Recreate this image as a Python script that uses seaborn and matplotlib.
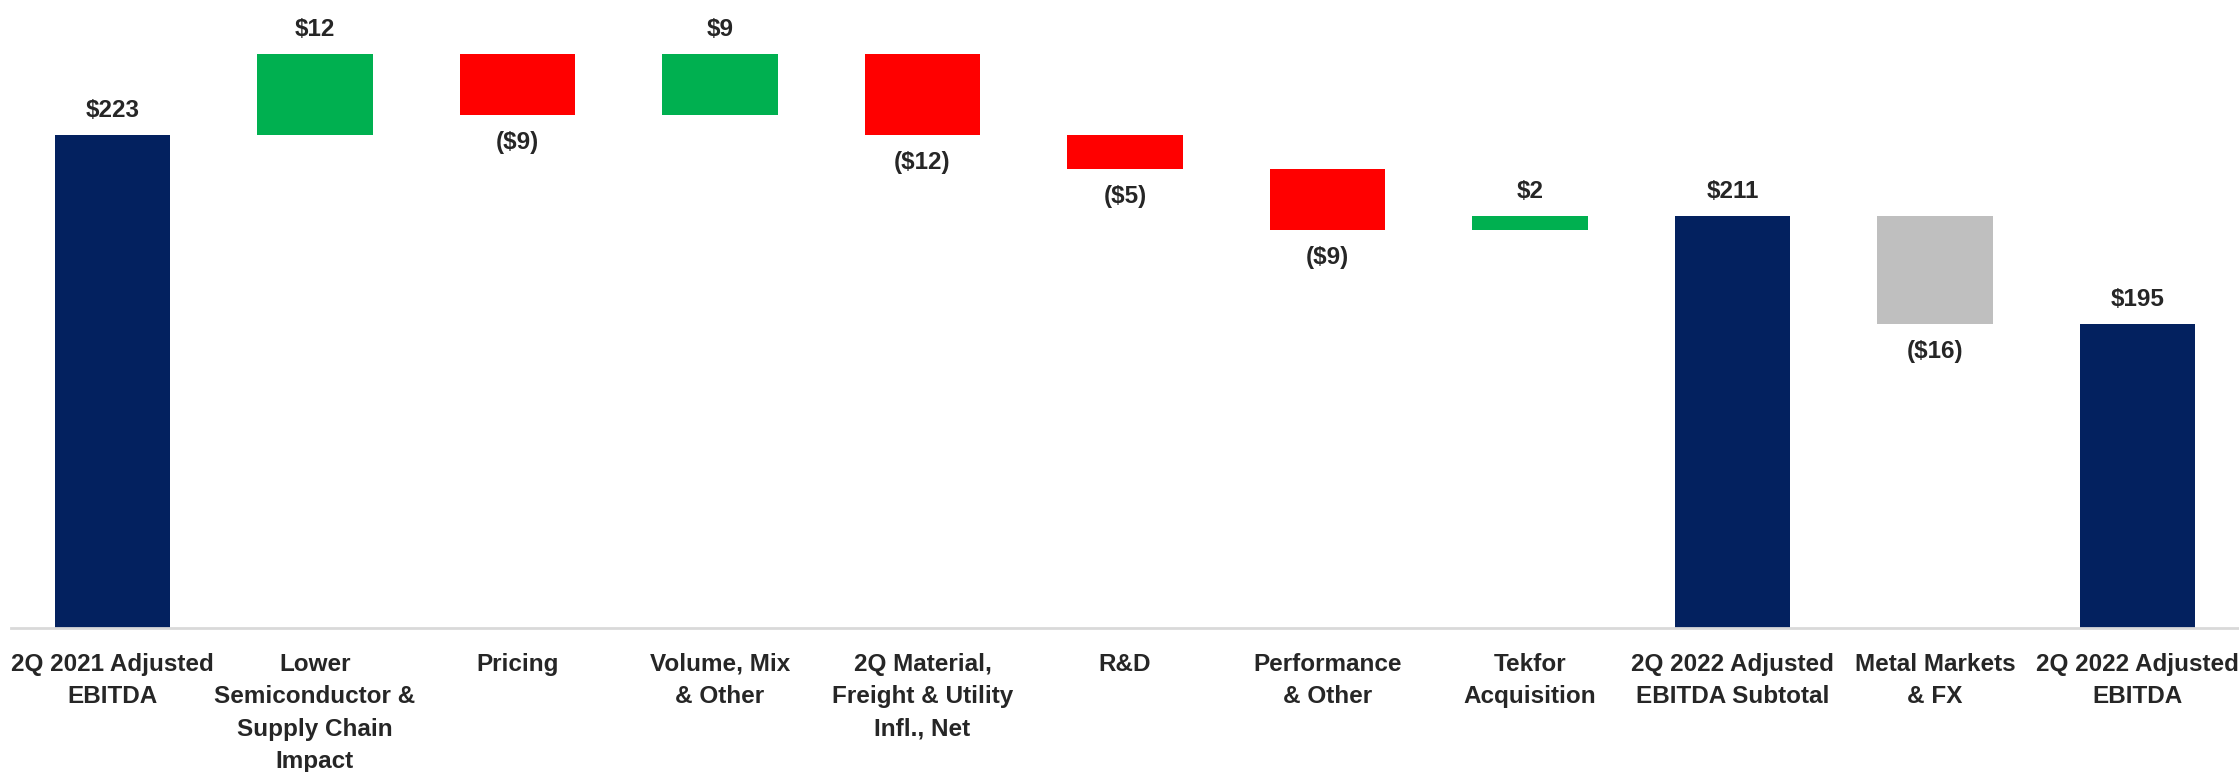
import numpy as np
import pandas as pd
import matplotlib
matplotlib.use("Agg")
import matplotlib.pyplot as plt
import seaborn as sns

categories = [
    "2Q 2021 Adjusted\nEBITDA",
    "Lower\nSemiconductor &\nSupply Chain\nImpact",
    "Pricing",
    "Volume, Mix\n& Other",
    "2Q Material,\nFreight & Utility\nInfl., Net",
    "R&D",
    "Performance\n& Other",
    "Tekfor\nAcquisition",
    "2Q 2022 Adjusted\nEBITDA Subtotal",
    "Metal Markets\n& FX",
    "2Q 2022 Adjusted\nEBITDA",
]
values = [223, 12, -9, 9, -12, -5, -9, 2, 211, -16, 195]
kinds = ["total", "delta", "delta", "delta", "delta", "delta", "delta", "delta",
         "total", "fx", "total"]
value_labels = ["$223", "$12", "($9)", "$9", "($12)", "($5)", "($9)", "$2",
                "$211", "($16)", "$195"]

NAVY = "#03215F"
GREEN = "#00B050"
RED = "#FF0000"
GRAY = "#BFBFBF"

# waterfall geometry: bottom and height of each bar
bottoms, heights, colors = [], [], []
running = 0
for v, k in zip(values, kinds):
    if k == "total":
        bottoms.append(0)
        heights.append(v)
        colors.append(NAVY)
        running = v
    else:
        lo = min(running, running + v)
        bottoms.append(lo)
        heights.append(abs(v))
        if k == "fx":
            colors.append(GRAY)
        else:
            colors.append(GREEN if v > 0 else RED)
        running += v

df = pd.DataFrame({"category": categories, "height": heights})

sns.set_style("white")
# narrow bold font if present, else regular sans
plt.rcParams["font.family"] = ["Liberation Sans Narrow", "Liberation Sans", "DejaVu Sans"]
plt.rcParams["font.weight"] = "bold"

fig = plt.figure(figsize=(22.39, 7.72), dpi=100)
ax = fig.add_axes([11 / 2239, (772 - 628) / 772, 1 - 11 / 2239, 628 / 772])

sns.barplot(data=df, x="category", y="height", hue="category",
            palette=colors, legend=False, width=0.57, saturation=1,
            ax=ax)

for patch, b in zip(ax.patches, bottoms):
    patch.set_y(b)
    patch.set_edgecolor("none")

ax.set_ylim(150, 243)
ax.set_xlim(-0.5, len(categories) - 0.5)

# value labels: above the bar for gains/totals, below for losses
for i, (v, b, h, lab) in enumerate(zip(values, bottoms, heights, value_labels)):
    if v >= 0:
        ax.annotate(lab, (i, b + h), xytext=(0, 18), textcoords="offset points",
                    ha="center", va="center", fontsize=17.5, fontweight="bold")
    else:
        ax.annotate(lab, (i, b), xytext=(0, -20), textcoords="offset points",
                    ha="center", va="center", fontsize=17.5, fontweight="bold")

ax.set_xlabel("")
ax.set_ylabel("")
ax.set_yticks([])
ax.set_xticks(range(len(categories)))
ax.set_xticklabels(categories, fontsize=17.5, fontweight="bold", linespacing=1.52)
ax.tick_params(axis="x", length=0, pad=18)
for side in ["top", "right", "left"]:
    ax.spines[side].set_visible(False)
ax.spines["bottom"].set_color("#D9D9D9")
ax.spines["bottom"].set_linewidth(2)

fig.savefig("out.png", dpi=100)
